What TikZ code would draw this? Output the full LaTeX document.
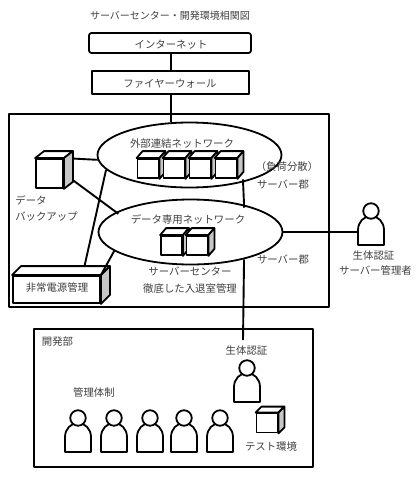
\documentclass[tikz,border=0pt]{standalone}
\usepackage{fontspec}
\setmainfont{Noto Sans CJK JP}
\usetikzlibrary{calc,shapes.geometric}
\newcommand{\boxfaces}[3]{%
  \draw[ink, fill=white] (#1.north west) -- ++(#2,#3) -- ($(#1.north east)+(#2,#3)$) -- (#1.north east) -- cycle;
  \draw[ink, fill=gray!45] (#1.north east) -- ++(#2,#3) -- ($(#1.south east)+(#2,#3)$) -- (#1.south east) -- cycle;
}
\begin{document}
\begin{tikzpicture}[
  x=1pt, y=-1pt,
  ink/.style={draw=black, line width=1.8pt, line join=round},
  wire/.style={draw=black, line width=1.9pt},
  frame/.style={ink, fill=white, inner sep=0pt},
  front/.style={ink, fill=white, inner sep=0pt, minimum width=21pt, minimum height=19pt},
  net/.style={ellipse, ink, fill=white, inner sep=0pt, minimum width=184pt, minimum height=65pt},
  lbl/.style={font=\fontsize{10.4}{12}\selectfont, text=black!75, inner sep=0pt},
  head/.style={circle, ink, fill=white, inner sep=0pt, minimum size=15.5pt},
  person/.pic={
    \draw[ink, fill=white] (-13,34) -- (-13,19) .. controls (-13,11) and (-7,5) .. (0,5)
      .. controls (7,5) and (13,11) .. (13,19) -- (13,34) -- cycle;
    \node[head] (-head) at (0,0) {};
  }
]
  \useasboundingbox (0,0) rectangle (420,480);
  \node[lbl, font=\fontsize{10}{12}\selectfont] (title) at (170,16) {サーバーセンター・開発環境相関図};
  % top of the chain
  \node[frame, rounded corners=2.5pt, minimum width=162pt, minimum height=20pt] (internet) at (170,43) {};
  \node[frame, minimum width=157pt, minimum height=23pt] (firewall) at (170.5,82.5) {};
  % the two large frames
  \node[frame, minimum width=320pt, minimum height=193pt] (center) at (169,210.5) {};
  \node[frame, minimum width=279pt, minimum height=138pt] (dev) at (173.5,398) {};
  \node[net] (upper) at (189.5,155) {};
  \node[net] (lower) at (190.5,232) {};
  \node[front, minimum width=27pt, minimum height=29pt] (backup) at (49.5,173.5) {};
  \node[front, minimum width=87pt, minimum height=27pt] (power) at (56.5,289.5) {};
  \coordinate (adminhand) at (358,232);
  \coordinate (devend) at (243,340);
  \draw[wire] (internet.south -| 171,0) -- (firewall.north -| 171,0);
  \draw[wire] (firewall.south -| 171,0) -- (upper.north -| 171,0);
  \draw[wire] (backup.north east) -- (upper.183);
  \draw[wire, shorten >=-3pt] (backup.east) -- (lower.165);
  \draw[wire] (upper.190.6) -- (power.29);
  \draw[wire, shorten <=-3pt, shorten >=-3pt] (upper.-27) -- (lower.27);
  \draw[wire] (lower.east) -- (adminhand);
  \draw[wire] (lower.-27) -- (devend);
  \boxfaces{backup}{9}{-7}
  \boxfaces{power}{9}{-9}
  \draw[wire] (lower.194.5) -- (power.north east);
  % server boxes inside the two networks
  \foreach \i/\x in {1/148,2/174,3/200,4/226} {
    \node[front] (outer\i) at (\x,168.5) {};
    \boxfaces{outer\i}{6}{-7}
  }
  \foreach \i/\x in {1/171.5,2/197} {
    \node[front] (inner\i) at (\x,245.5) {};
    \boxfaces{inner\i}{6}{-7}
  }
  \node[front] (testbox) at (267,423) {};
  \boxfaces{testbox}{6}{-6}
  % people
  \pic (admin) at (371,211) {person};
  \pic (auth) at (247,368) {person};
  \foreach \i/\x in {1/78,2/114,3/150,4/184,5/220} {
    \pic (staff\i) at (\x,418) {person};
  }
  % labels
  \node[lbl] (internettext) at (171,45) {インターネット};
  \node[lbl] (firewalltext) at (170,84) {ファイヤーウォール};
  \node[lbl] (uppertext) at (182,144) {外部連結ネットワーク};
  \node[lbl] (lowertext) at (188,220) {データ専用ネットワーク};
  \node[lbl] (backuptexta) at (31,200) {データ};
  \node[lbl] (backuptextb) at (46.5,217) {バックアップ};
  \node[lbl] (balancetext) at (287,167) {（負荷分散）};
  \node[lbl] (groupa) at (283,185) {サーバー郡};
  \node[lbl] (groupb) at (283,260) {サーバー郡};
  \node[lbl] (centertext) at (190,271) {サーバーセンター};
  \node[lbl] (roomtext) at (190,289) {徹底した入退室管理};
  \node[lbl] (powertext) at (57,288) {非常電源管理};
  \node[lbl] (admintexta) at (373.5,256) {生体認証};
  \node[lbl] (admintextb) at (375.5,271) {サーバー管理者};
  \node[lbl] (devtext) at (57.5,342) {開発部};
  \node[lbl] (stafftext) at (94,393) {管理体制};
  \node[lbl] (authtext) at (246.5,351) {生体認証};
  \node[lbl] (testtext) at (271,447) {テスト環境};
\end{tikzpicture}
\end{document}
